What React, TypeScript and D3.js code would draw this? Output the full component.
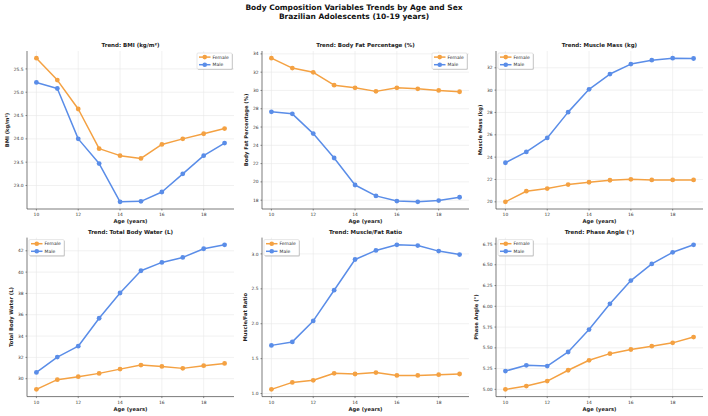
import React from 'react';
import * as d3 from 'd3';

const ages = [10, 11, 12, 13, 14, 15, 16, 17, 18, 19];
const xTicks = [10, 12, 14, 16, 18];

const bmiFemale = [25.73, 25.26, 24.64, 23.79, 23.64, 23.58, 23.88, 24.0, 24.11, 24.22];
const bmiMale = [25.21, 25.08, 24.0, 23.47, 22.65, 22.66, 22.86, 23.25, 23.64, 23.91];
const fatFemale = [33.53, 32.45, 31.98, 30.58, 30.29, 29.9, 30.29, 30.18, 30.0, 29.86];
const fatMale = [27.66, 27.44, 25.28, 22.61, 19.66, 18.47, 17.9, 17.82, 17.96, 18.32];
const muscleFemale = [20.0, 20.95, 21.19, 21.54, 21.75, 21.93, 22.01, 21.96, 21.96, 21.96];
const muscleMale = [23.5, 24.47, 25.72, 28.03, 30.07, 31.44, 32.33, 32.68, 32.86, 32.83];
const waterFemale = [29.0, 29.91, 30.19, 30.5, 30.9, 31.28, 31.15, 30.97, 31.22, 31.43];
const waterMale = [30.59, 32.03, 33.05, 35.67, 38.04, 40.13, 40.91, 41.38, 42.19, 42.56];
const ratioFemale = [1.06, 1.16, 1.19, 1.29, 1.28, 1.3, 1.26, 1.26, 1.27, 1.28];
const ratioMale = [1.69, 1.74, 2.04, 2.48, 2.92, 3.05, 3.13, 3.12, 3.04, 2.99];
const phaseFemale = [5.0, 5.04, 5.1, 5.23, 5.35, 5.43, 5.48, 5.52, 5.56, 5.63];
const phaseMale = [5.22, 5.29, 5.28, 5.45, 5.72, 6.03, 6.31, 6.51, 6.65, 6.74];

const bmiTicks = [23.0, 23.5, 24.0, 24.5, 25.0, 25.5];
const fatTicks = [18, 20, 22, 24, 26, 28, 30, 32, 34];
const muscleTicks = [20, 22, 24, 26, 28, 30, 32];
const waterTicks = [30, 32, 34, 36, 38, 40, 42];
const ratioTicks = [1.0, 1.5, 2.0, 2.5, 3.0];
const phaseTicks = [5.0, 5.25, 5.5, 5.75, 6.0, 6.25, 6.5, 6.75];

const FEMALE = '#f4a142';
const MALE = '#5a8de8';
const FONT = '"DejaVu Sans", sans-serif';

const W = 708, H = 416;
const COLS = [[27, 234], [262, 469], [496, 703]];
const ROWS = [[51, 209], [237.6, 396.6]];
const TICK_FS = 4.4;

interface Panel {
  title: string; ylabel: string; female: number[]; male: number[];
  ticks: number[]; fmt: string; legendRight: boolean;
}

const panels: Panel[] = [
  { title: 'Trend: BMI (kg/m²)', ylabel: 'BMI (kg/m²)', female: bmiFemale, male: bmiMale, ticks: bmiTicks, fmt: '.1f', legendRight: true },
  { title: 'Trend: Body Fat Percentage (%)', ylabel: 'Body Fat Percentage (%)', female: fatFemale, male: fatMale, ticks: fatTicks, fmt: 'd', legendRight: true },
  { title: 'Trend: Muscle Mass (kg)', ylabel: 'Muscle Mass (kg)', female: muscleFemale, male: muscleMale, ticks: muscleTicks, fmt: 'd', legendRight: false },
  { title: 'Trend: Total Body Water (L)', ylabel: 'Total Body Water (L)', female: waterFemale, male: waterMale, ticks: waterTicks, fmt: 'd', legendRight: false },
  { title: 'Trend: Muscle/Fat Ratio', ylabel: 'Muscle/Fat Ratio', female: ratioFemale, male: ratioMale, ticks: ratioTicks, fmt: '.1f', legendRight: false },
  { title: 'Trend: Phase Angle (°)', ylabel: 'Phase Angle (°)', female: phaseFemale, male: phaseMale, ticks: phaseTicks, fmt: '.2f', legendRight: false },
];

function ChartPanel({ p, idx }: { p: Panel; idx: number }) {
  const [x0, x1] = COLS[idx % 3];
  const [y0, y1] = ROWS[Math.floor(idx / 3)];
  const x = d3.scaleLinear().domain([9.55, 19.45]).range([x0, x1]);
  const all = [...p.female, ...p.male];
  const lo = d3.min(all) ?? 0, hi = d3.max(all) ?? 1;
  const pad = (hi - lo) * 0.05;
  const y = d3.scaleLinear().domain([lo - pad, hi + pad]).range([y1, y0]);
  const fmt = d3.format(p.fmt);
  const line = d3.line<number>().x((_, i) => x(ages[i])).y(d => y(d));

  // ylabel offset from widest tick label
  const widest = d3.max(p.ticks.map(t => fmt(t)), s => {
    let w = 0;
    for (const c of s) w += c === '.' ? 0.318 : 0.636;
    return w;
  }) ?? 1;
  const ylabX = x0 - 10 - widest * TICK_FS;

  const legX = p.legendRight ? x1 - 37 : x0 + 2;
  const legY = y0 + 2;
  const series = [
    { name: 'Female', color: FEMALE, vals: p.female },
    { name: 'Male', color: MALE, vals: p.male },
  ];

  return (
    <g>
      {/* grid */}
      {xTicks.map(t => (
        <line key={'gx' + t} x1={x(t)} x2={x(t)} y1={y0} y2={y1} stroke="#e8e8e8" strokeWidth={0.6} />
      ))}
      {p.ticks.map(t => (
        <line key={'gy' + t} x1={x0} x2={x1} y1={y(t)} y2={y(t)} stroke="#e8e8e8" strokeWidth={0.6} />
      ))}
      {/* spines */}
      <line x1={x0} x2={x0} y1={y0} y2={y1} stroke="#444" strokeWidth={0.7} />
      <line x1={x0} x2={x1} y1={y1} y2={y1} stroke="#444" strokeWidth={0.7} />
      {/* ticks */}
      {xTicks.map(t => (
        <g key={'tx' + t}>
          <line x1={x(t)} x2={x(t)} y1={y1} y2={y1 + 1.5} stroke="#444" strokeWidth={0.6} />
          <text x={x(t)} y={y1 + 6.9} fontSize={TICK_FS} textAnchor="middle" fill="#333">{t}</text>
        </g>
      ))}
      {p.ticks.map(t => (
        <g key={'ty' + t}>
          <line x1={x0 - 1.5} x2={x0} y1={y(t)} y2={y(t)} stroke="#444" strokeWidth={0.6} />
          <text x={x0 - 3.5} y={y(t) + 1.6} fontSize={TICK_FS} textAnchor="end" fill="#333">{fmt(t)}</text>
        </g>
      ))}
      {/* labels */}
      <text x={(x0 + x1) / 2} y={y1 + 14.3} fontSize={5.2} fontWeight="bold" textAnchor="middle" fill="#222">Age (years)</text>
      <text transform={`translate(${ylabX},${(y0 + y1) / 2}) rotate(-90)`} fontSize={5.2} fontWeight="bold" textAnchor="middle" fill="#222" dy={1.8}>{p.ylabel}</text>
      <text x={(x0 + x1) / 2} y={y0 - 4} fontSize={5.5} fontWeight="bold" textAnchor="middle" fill="#222">{p.title}</text>
      {/* series */}
      {series.map(s => (
        <g key={s.name}>
          <path d={line(s.vals) ?? ''} fill="none" stroke={s.color} strokeWidth={1.5} strokeLinejoin="round" />
          {s.vals.map((v, i) => (
            <circle key={i} cx={x(ages[i])} cy={y(v)} r={2.4} fill={s.color} />
          ))}
        </g>
      ))}
      {/* legend */}
      <g transform={`translate(${legX},${legY})`}>
        <rect x={0.8} y={0.8} width={35} height={16} rx={1} fill="#9a9a9a" opacity={0.6} />
        <rect x={0} y={0} width={35} height={16} rx={1} fill="#fff" stroke="#cfcfcf" strokeWidth={0.5} />
        {series.map((s, i) => (
          <g key={s.name} transform={`translate(0,${4.1 + i * 7.6})`}>
            <line x1={2} x2={13.5} y1={0} y2={0} stroke={s.color} strokeWidth={1.5} />
            <circle cx={7.75} cy={0} r={2.3} fill={s.color} />
            <text x={15.5} y={1.6} fontSize={4.5} fill="#333">{s.name}</text>
          </g>
        ))}
      </g>
    </g>
  );
}

export default function App() {
  return (
    <svg width={W} height={H} viewBox={`0 0 ${W} ${H}`}
      style={{ position: 'fixed', left: 0, top: 0, background: '#fff', fontFamily: FONT }}>
      <rect width={W} height={H} fill="#fff" />
      <text x={W / 2} y={9.5} fontSize={7.5} fontWeight="bold" textAnchor="middle" fill="#111">Body Composition Variables Trends by Age and Sex</text>
      <text x={W / 2} y={18.7} fontSize={7.5} fontWeight="bold" textAnchor="middle" fill="#111">Brazilian Adolescents (10-19 years)</text>
      {panels.map((p, i) => <ChartPanel key={i} p={p} idx={i} />)}
    </svg>
  );
}
